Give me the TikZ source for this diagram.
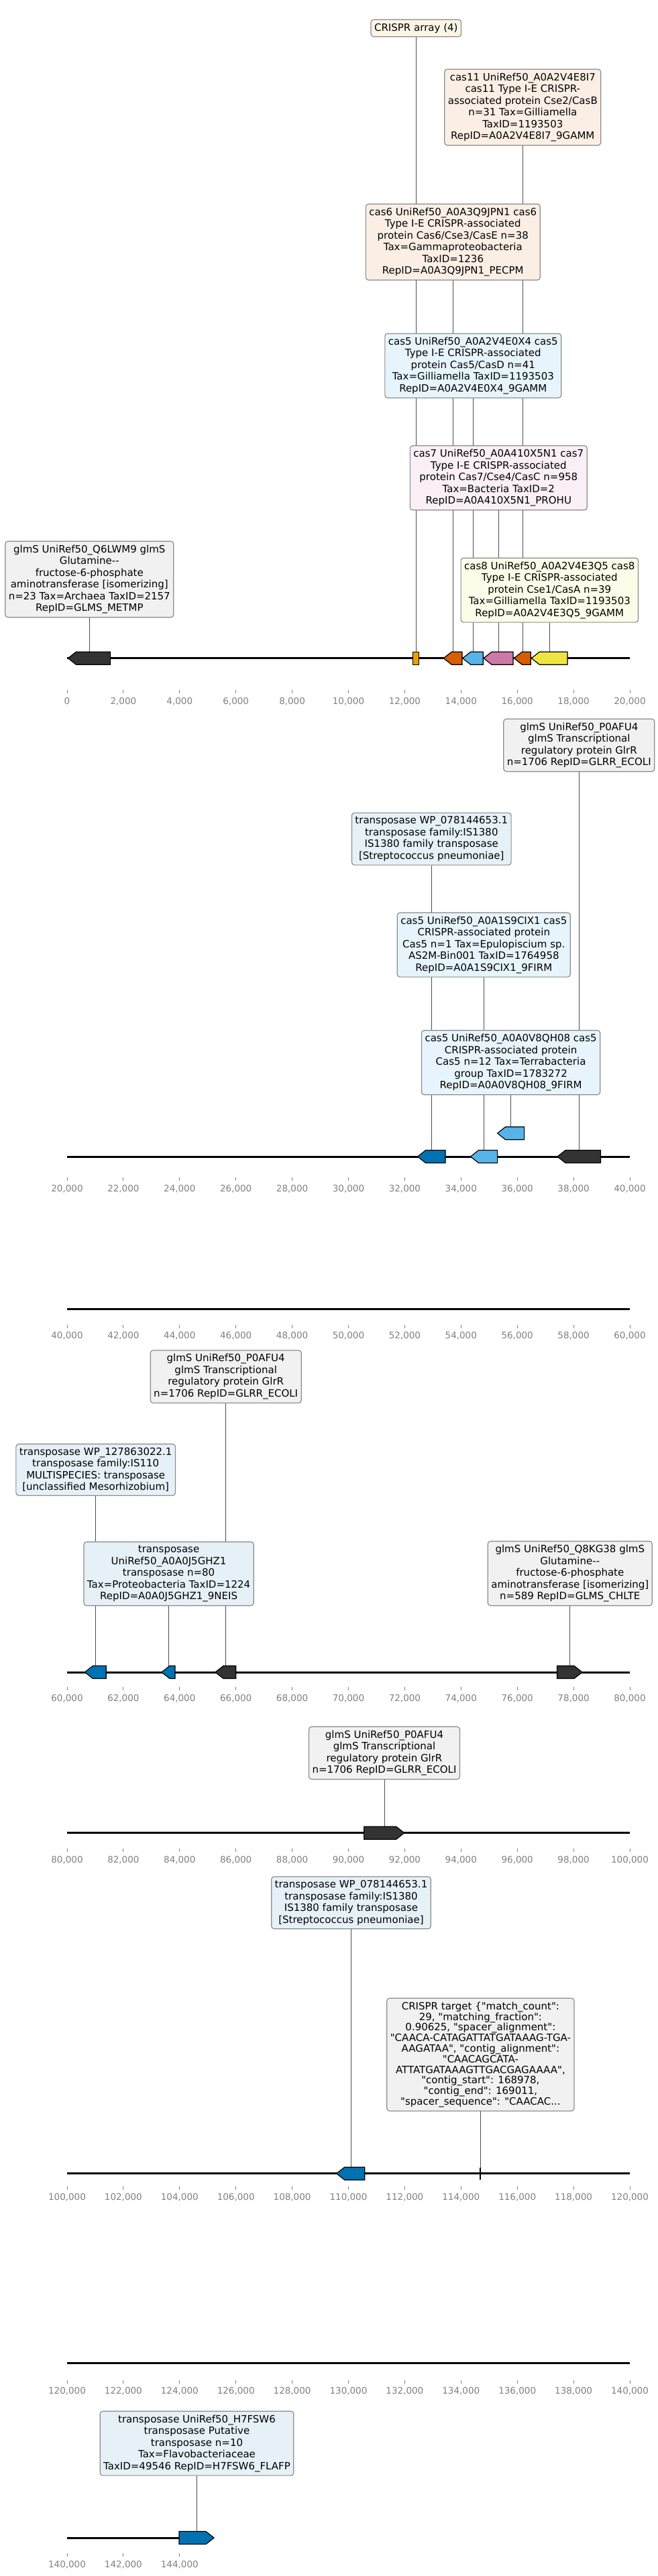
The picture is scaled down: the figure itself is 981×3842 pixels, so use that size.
\documentclass[tikz,border=0pt]{standalone}
\usepackage{fontspec}
\setmainfont{DejaVu Sans}[Ligatures=TeXOff]
\pgfdeclarelayer{bg}
\pgfsetlayers{bg,main}
\definecolor{corange}{HTML}{E69F00}
\definecolor{cverm}{HTML}{D55E00}
\definecolor{csky}{HTML}{56B4E9}
\definecolor{cpink}{HTML}{CC79A7}
\definecolor{cyell}{HTML}{F0E442}
\definecolor{cblue}{HTML}{0072B2}
\definecolor{cdark}{HTML}{333333}
\definecolor{boxborder}{HTML}{8C8C8C}
\definecolor{leadgray}{HTML}{4D4D4D}
\definecolor{ticklab}{HTML}{808080}
\tikzset{
  box/.style={draw=boxborder, line width=1.2pt, rounded corners=4pt, inner xsep=5pt, inner ysep=5.5pt,
    align=center, anchor=south, text=black, font=\fontsize{15}{17.5}\selectfont},
  tightbox/.style={box, font=\fontsize{15}{15.8}\selectfont},
  lead/.style={draw=leadgray, line width=1pt},
  gene/.style={draw=black, line width=1.2pt, line join=miter},
  trackline/.style={draw=black, line width=3pt},
  tickmark/.style={draw=ticklab, line width=1pt},
  ticklabel/.style={anchor=base, inner sep=0pt, text=ticklab, font=\fontsize{13.5}{16}\selectfont}
}
\newcommand\geneL[5]{%
  \draw[gene, fill=#5] (#2,#4) -- ({#2+12},{#4-9.5}) -- (#3,{#4-9.5}) -- (#3,{#4+9.5}) -- ({#2+12},{#4+9.5}) -- cycle;
  \coordinate (#1) at ({(#2+#3)/2},{#4-9.5});}
\newcommand\geneR[5]{%
  \draw[gene, fill=#5] (#2,{#4-9.5}) -- ({#3-12},{#4-9.5}) -- (#3,#4) -- ({#3-12},{#4+9.5}) -- (#2,{#4+9.5}) -- cycle;
  \coordinate (#1) at ({(#2+#3)/2},{#4-9.5});}
\newcommand\axisrow[3]{%
  \foreach \k in {0,...,#3}{
    \draw[tickmark] ({100+83.9*\k},{#1-16}) -- ({100+83.9*\k},{#1-11});
    \edef\thk{\the\numexpr #2+2*\k\relax}
    \node[ticklabel] (tick#2x\k) at ({100+83.9*\k},{#1+5}) {\ifnum\thk=0 0\else\thk,000\fi};
  }}
\begin{document}
\begin{tikzpicture}[x=1pt,y=-1pt]
\begin{pgfonlayer}{bg}
  \fill[white] (0,0) rectangle (981,3842);
\end{pgfonlayer}
\useasboundingbox (0,0) rectangle (981,3842);

% ---------- track lines ----------
\begin{pgfonlayer}{bg}
  \draw[trackline] (100,981.7) -- (939,981.7);
  \draw[trackline] (100,1725) -- (939,1725);
  \draw[trackline] (100,1952.7) -- (939,1952.7);
  \draw[trackline] (100,2494) -- (939,2494);
  \draw[trackline] (100,2733.7) -- (939,2733.7);
  \draw[trackline] (100,3241.7) -- (939,3241.7);
  \draw[trackline] (100,3524) -- (939,3524);
  \draw[trackline] (100,3785) -- (300,3785);
\end{pgfonlayer}

% ---------- axes ----------
\axisrow{1045}{0}{10}
\axisrow{1772}{20}{10}
\axisrow{1991.7}{40}{10}
\axisrow{2532}{60}{10}
\axisrow{2773}{80}{10}
\axisrow{3276.7}{100}{10}
\axisrow{3565.7}{120}{10}
\axisrow{3824}{140}{2}

% ---------- track 1 ----------
\geneL{gglms1}{101.4}{164.6}{981.7}{cdark}
\draw[gene, fill=corange] (615.3,972.2) rectangle (624.3,991.2);
\coordinate (gcr) at (619.8,972.2);
\geneL{gcas6}{661.3}{689}{981.7}{cverm}
\geneL{gcas5}{689.7}{720.3}{981.7}{csky}
\geneL{gcas7}{721}{765}{981.7}{cpink}
\geneL{gcas11}{766.3}{791.3}{981.7}{cverm}
\geneL{gcas8}{792.3}{846}{981.7}{cyell}

\node[box, fill=corange!10] (bcr) at (620.3,55.3) {CRISPR array (4)};
\node[box, fill=cverm!10] (bcas11) at (779.3,217.3) {cas11 UniRef50\_A0A2V4E8I7\\cas11 Type I-E CRISPR-\\associated protein Cse2/CasB\\n=31 Tax=Gilliamella\\TaxID=1193503\\RepID=A0A2V4E8I7\_9GAMM};
\node[box, fill=cverm!10] (bcas6) at (675.3,418.3) {cas6 UniRef50\_A0A3Q9JPN1 cas6\\Type I-E CRISPR-associated\\protein Cas6/Cse3/CasE n=38\\Tax=Gammaproteobacteria\\TaxID=1236\\RepID=A0A3Q9JPN1\_PECPM};
\node[box, fill=csky!14] (bcas5) at (705.3,594) {cas5 UniRef50\_A0A2V4E0X4 cas5\\Type I-E CRISPR-associated\\protein Cas5/CasD n=41\\Tax=Gilliamella TaxID=1193503\\RepID=A0A2V4E0X4\_9GAMM};
\node[box, fill=cpink!12] (bcas7) at (743.3,761.3) {cas7 UniRef50\_A0A410X5N1 cas7\\Type I-E CRISPR-associated\\protein Cas7/Cse4/CasC n=958\\Tax=Bacteria TaxID=2\\RepID=A0A410X5N1\_PROHU};
\node[box, fill=cyell!12] (bcas8) at (819.3,928.7) {cas8 UniRef50\_A0A2V4E3Q5 cas8\\Type I-E CRISPR-associated\\protein Cse1/CasA n=39\\Tax=Gilliamella TaxID=1193503\\RepID=A0A2V4E3Q5\_9GAMM};
\node[box, fill=cdark!7] (bglms1) at (133.3,921.3) {glmS UniRef50\_Q6LWM9 glmS\\Glutamine-{}-\\fructose-6-phosphate\\aminotransferase [isomerizing]\\n=23 Tax=Archaea TaxID=2157\\RepID=GLMS\_METMP};

% ---------- track 2 ----------
\geneL{gtr1}{622.6}{664}{1725}{cblue}
\geneL{gcas5b}{701.5}{741.6}{1725}{csky}
\geneL{gglms2}{831}{895.5}{1725}{cdark}
\geneL{gcas5c}{741.6}{781.6}{1690.2}{csky}

\node[box, fill=cdark!7] (bglms2) at (863.3,1151.3) {glmS UniRef50\_P0AFU4\\glmS Transcriptional\\regulatory protein GlrR\\n=1706 RepID=GLRR\_ECOLI};
\node[box, fill=cblue!10] (btr1) at (643.3,1290.7) {transposase WP\_078144653.1\\transposase family:IS1380\\IS1380 family transposase\\{[}Streptococcus pneumoniae{]}};
\node[box, fill=csky!14] (bcas5b) at (721.3,1457.7) {cas5 UniRef50\_A0A1S9CIX1 cas5\\CRISPR-associated protein\\Cas5 n=1 Tax=Epulopiscium sp.\\AS2M-Bin001 TaxID=1764958\\RepID=A0A1S9CIX1\_9FIRM};
\node[box, fill=csky!14] (bcas5c) at (761.6,1633.3) {cas5 UniRef50\_A0A0V8QH08 cas5\\CRISPR-associated protein\\Cas5 n=12 Tax=Terrabacteria\\group TaxID=1783272\\RepID=A0A0V8QH08\_9FIRM};

% ---------- track 4 ----------
\geneL{gtr2}{126.4}{158.3}{2494}{cblue}
\geneL{gtr3}{241}{261}{2494}{cblue}
\geneL{gglms3}{321}{351.7}{2494}{cdark}
\geneR{gglms4}{830.4}{868}{2494}{cdark}

\node[box, fill=cdark!7] (bglms3) at (336.7,2093) {glmS UniRef50\_P0AFU4\\glmS Transcriptional\\regulatory protein GlrR\\n=1706 RepID=GLRR\_ECOLI};
\node[box, fill=cblue!10] (btr2) at (142.7,2231) {transposase WP\_127863022.1\\transposase family:IS110\\MULTISPECIES: transposase\\{[}unclassified Mesorhizobium{]}};
\node[box, fill=cblue!10] (btr3) at (251.6,2395.3) {transposase\\UniRef50\_A0A0J5GHZ1\\transposase n=80\\Tax=Proteobacteria TaxID=1224\\RepID=A0A0J5GHZ1\_9NEIS};
\node[box, fill=cdark!7] (bglms4) at (849.8,2395.3) {glmS UniRef50\_Q8KG38 glmS\\Glutamine-{}-\\fructose-6-phosphate\\aminotransferase [isomerizing]\\n=589 RepID=GLMS\_CHLTE};

% ---------- track 5 ----------
\geneR{gglms5}{542.6}{602.7}{2733.7}{cdark}
\node[box, fill=cdark!7] (bglms5) at (573,2654.3) {glmS UniRef50\_P0AFU4\\glmS Transcriptional\\regulatory protein GlrR\\n=1706 RepID=GLRR\_ECOLI};

% ---------- track 6 ----------
\geneL{gtr4}{501.7}{543.8}{3241.7}{cblue}
\draw[line width=1.8pt] (715.8,3232.5) -- (715.8,3250.5);
\coordinate (gct) at (715.8,3232.5);
\node[box, fill=cblue!10] (btr4) at (523.5,2877.3) {transposase WP\_078144653.1\\transposase family:IS1380\\IS1380 family transposase\\{[}Streptococcus pneumoniae{]}};
\node[tightbox, fill=cdark!7] (bct) at (716.4,3149) {CRISPR target \{"match\_count":\\29, "matching\_fraction":\\0.90625, "spacer\_alignment":\\"CAACA-CATAGATTATGATAAAG-TGA-\\AAGATAA", "contig\_alignment":\\"CAACAGCATA-\\ATTATGATAAAGTTGACGAGAAAA",\\"contig\_start": 168978,\\"contig\_end": 169011,\\"spacer\_sequence": "CAACAC...};

% ---------- track 8 ----------
\geneR{gtr5}{267}{319}{3785}{cblue}
\node[box, fill=cblue!10] (btr5) at (293.5,3692.7) {transposase UniRef50\_H7FSW6\\transposase Putative\\transposase n=10\\Tax=Flavobacteriaceae\\TaxID=49546 RepID=H7FSW6\_FLAFP};

% ---------- leader lines ----------
\begin{pgfonlayer}{bg}
  \foreach \b/\g in {bcr/gcr, bcas11/gcas11, bcas6/gcas6, bcas5/gcas5, bcas7/gcas7, bcas8/gcas8, bglms1/gglms1,
      bglms2/gglms2, btr1/gtr1, bcas5b/gcas5b, bcas5c/gcas5c,
      bglms3/gglms3, btr2/gtr2, btr3/gtr3, bglms4/gglms4,
      bglms5/gglms5, btr4/gtr4, bct/gct, btr5/gtr5}
    \draw[lead] (\b.south) -- (\b.south |- \g);
\end{pgfonlayer}
\end{tikzpicture}
\end{document}
